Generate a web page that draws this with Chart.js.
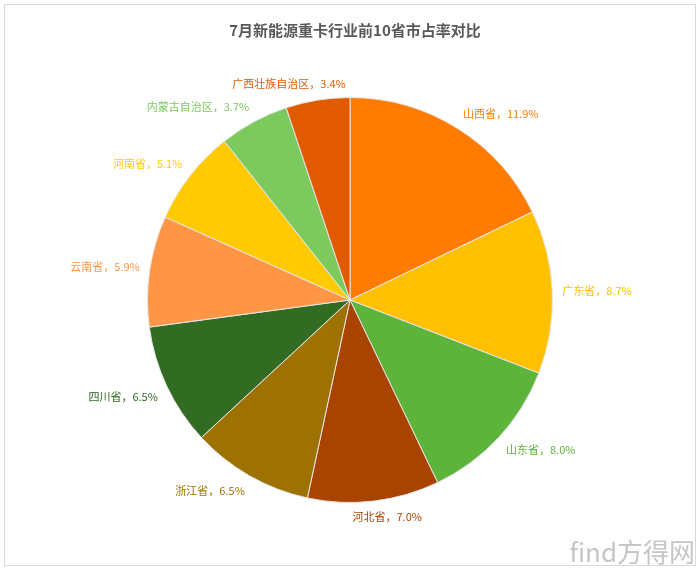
<!DOCTYPE html>
<html lang="zh-CN">
<head>
    <meta charset="UTF-8">
    <title>7月新能源重卡行业前10省市占率对比</title>
    <script src="https://cdnjs.cloudflare.com/ajax/libs/Chart.js/4.4.0/chart.umd.min.js"></script>
    <style>
        html, body { margin: 0; padding: 0; background: #fff; }
        #wrap { width: 700px; height: 570px; position: relative; }
    </style>
</head>
<body>
<div id="wrap">
    <canvas id="pieChart" width="700" height="570"></canvas>
</div>

<script>
    // Data
    const provinces = ['山西省', '广东省', '山东省', '河北省', '浙江省', '四川省', '云南省', '河南省', '内蒙古自治区', '广西壮族自治区'];
    const shares = [11.9, 8.7, 8.0, 7.0, 6.5, 6.5, 5.9, 5.1, 3.7, 3.4];
    const sliceColors = ['#FF7C00', '#FFC000', '#5DB43A', '#A84300', '#9E7200', '#326B22', '#FF9645', '#FFCB00', '#7CC95E', '#E25A00'];
    const chartTitle = '7月新能源重卡行业前10省市占率对比';

    const FONT = '"Noto Sans CJK SC", "Noto Sans", sans-serif';

    // Frame, title and watermark
    const framePlugin = {
        id: 'frame',
        beforeDraw(chart) {
            const ctx = chart.ctx;
            ctx.save();
            ctx.fillStyle = '#fff';
            ctx.fillRect(0, 0, chart.width, chart.height);
            ctx.strokeStyle = '#d9d9d9';
            ctx.lineWidth = 1;
            ctx.strokeRect(4.5, 4.5, chart.width - 9, chart.height - 9);
            ctx.restore();
        },
        afterDraw(chart) {
            const ctx = chart.ctx;
            ctx.save();
            ctx.font = 'bold 15px ' + FONT;
            ctx.fillStyle = '#595959';
            ctx.textAlign = 'center';
            ctx.textBaseline = 'middle';
            ctx.fillText(chartTitle, 355, 30);

            ctx.font = '26px ' + FONT;
            ctx.textAlign = 'right';
            ctx.fillStyle = 'rgba(150,150,150,0.55)';
            ctx.fillText('find方得网', 695, 552);
            ctx.restore();
        }
    };

    // Outside-end data labels, coloured like their slices
    const labelPlugin = {
        id: 'outsideLabels',
        afterDatasetsDraw(chart) {
            const ctx = chart.ctx;
            const meta = chart.getDatasetMeta(0);
            ctx.save();
            ctx.font = '11px ' + FONT;
            ctx.textAlign = 'center';
            ctx.textBaseline = 'middle';
            meta.data.forEach((arc, i) => {
                const mid = (arc.startAngle + arc.endAngle) / 2;
                const dx = Math.cos(mid), dy = Math.sin(mid);
                const r = arc.outerRadius + 10;
                const text = provinces[i] + '，' + shares[i].toFixed(1) + '%';
                const halfW = ctx.measureText(text).width / 2;
                const halfH = 6;
                const kx = Math.max(-1, Math.min(1, dx * 3));
                const ky = Math.max(-1, Math.min(1, dy * 3));
                const x = arc.x + r * dx + halfW * kx;
                const y = arc.y + r * dy + halfH * ky;
                ctx.fillStyle = sliceColors[i];
                ctx.fillText(text, x, y);
            });
            ctx.restore();
        }
    };

    new Chart(document.getElementById('pieChart'), {
        type: 'pie',
        data: {
            labels: provinces,
            datasets: [{
                data: shares,
                backgroundColor: sliceColors,
                borderColor: '#e6e6e6',
                borderWidth: 1
            }]
        },
        options: {
            responsive: false,
            animation: false,
            layout: { padding: { top: 97, bottom: 67, left: 0, right: 0 } },
            plugins: {
                legend: { display: false },
                tooltip: { enabled: false },
                title: { display: false }
            }
        },
        plugins: [framePlugin, labelPlugin]
    });
</script>
</body>
</html>
